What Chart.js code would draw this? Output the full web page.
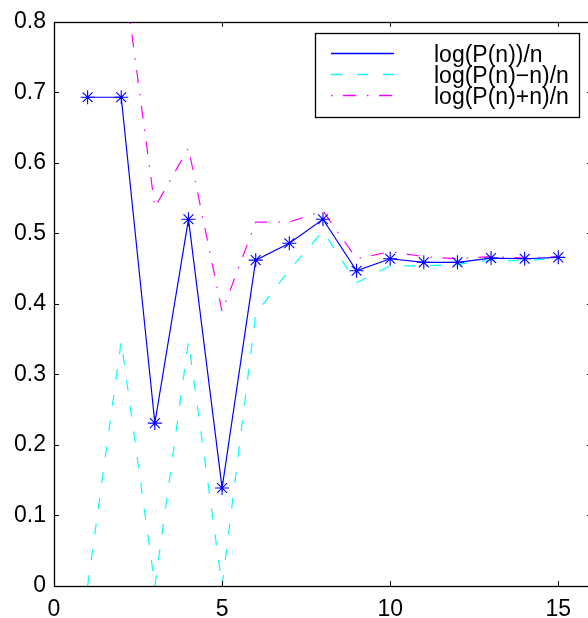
<!DOCTYPE html>
<html>
<head>
<meta charset="utf-8">
<script src="https://cdn.jsdelivr.net/npm/chart.js@4"></script>
<style>
  html, body { margin: 0; padding: 0; background: #fff; overflow: hidden; }
  #wrap { width: 588px; height: 618px; overflow: hidden; }
</style>
</head>
<body>
<div id="wrap"><canvas id="graphCanvas" width="600" height="618"></canvas></div>
<script>
// values, n = 1..15
var nValues = [1, 2, 3, 4, 5, 6, 7, 8, 9, 10, 11, 12, 13, 14, 15];
var logP = [0.693, 0.693, 0.231, 0.520, 0.139, 0.462, 0.486, 0.520, 0.447, 0.464, 0.459, 0.459, 0.465, 0.464, 0.466];
var logPminus = [0, 0.347, 0, 0.347, 0, 0.386, 0.448, 0.503, 0.430, 0.454, 0.454, 0.456, 0.462, 0.461, 0.465];
var logPplus = [1.099, 0.896, 0.537, 0.621, 0.389, 0.516, 0.516, 0.532, 0.464, 0.474, 0.467, 0.464, 0.467, 0.465, 0.467];
var seriesNames = ['log(P(n))/n', 'log(P(n)\u2212n)/n', 'log(P(n)+n)/n'];
var seriesColors = ['#0000ff', '#00ffff', '#ff00ff'];
var seriesDash = [[], [11, 15], [1.5, 10.5, 13, 11]];
var xTicks = [0, 5, 10, 15];

var fontFamily = 'Arial, "Liberation Sans", Helvetica, sans-serif';

function toPoints(ys) {
    var pts = [];
    for (var i in nValues) {
        pts.push({ x: nValues[i], y: ys[i] });
    }
    return pts;
}

// box around the plot with inward tick marks, like the original figure
var boxPlugin = {
    id: 'boxTicks',
    afterDraw: function (chart) {
        var ctx = chart.ctx;
        var a = chart.chartArea;
        var xs = chart.scales.x, ys = chart.scales.y;
        var tl = 5;
        ctx.save();
        ctx.strokeStyle = '#000';
        ctx.lineWidth = 1;
        ctx.beginPath();
        xs.ticks.forEach(function (t) {
            var px = Math.round(xs.getPixelForValue(t.value)) + 0.5;
            ctx.moveTo(px, a.bottom); ctx.lineTo(px, a.bottom - tl);
            ctx.moveTo(px, a.top); ctx.lineTo(px, a.top + tl);
        });
        ys.ticks.forEach(function (t) {
            var py = Math.round(ys.getPixelForValue(t.value)) + 0.5;
            ctx.moveTo(a.left, py); ctx.lineTo(a.left + tl, py);
            ctx.moveTo(a.right, py); ctx.lineTo(a.right - tl, py);
        });
        ctx.stroke();
        ctx.lineWidth = 1.3;
        ctx.strokeRect(Math.round(a.left) + 0.5, Math.round(a.top) + 0.5,
            Math.round(a.right - a.left), Math.round(a.bottom - a.top));
        ctx.restore();
    }
};

// legend in the upper right corner
var legendPlugin = {
    id: 'boxLegend',
    afterDraw: function (chart) {
        var ctx = chart.ctx;
        var bx = 315, by = 33, bw = 264, bh = 84;
        var rows = [53.5, 74.5, 95.5];
        ctx.save();
        ctx.fillStyle = '#fff';
        ctx.fillRect(bx, by, bw, bh);
        ctx.strokeStyle = '#000';
        ctx.lineWidth = 1.3;
        ctx.strokeRect(bx + 0.5, by + 0.5, bw, bh);
        for (var i = 0; i < seriesNames.length; i++) {
            ctx.strokeStyle = seriesColors[i];
            ctx.lineWidth = 1.3;
            ctx.setLineDash(seriesDash[i]);
            ctx.beginPath();
            ctx.moveTo(331, rows[i]);
            ctx.lineTo(394, rows[i]);
            ctx.stroke();
            ctx.setLineDash([]);
            ctx.fillStyle = '#000';
            ctx.font = '23px ' + fontFamily;
            ctx.textAlign = 'left';
            ctx.textBaseline = 'alphabetic';
            ctx.fillText(seriesNames[i], 434, rows[i] + 8);
        }
        ctx.restore();
    }
};

var chartdata = {
    datasets: [
        {
            label: seriesNames[0],
            data: toPoints(logP),
            borderColor: seriesColors[0],
            backgroundColor: seriesColors[0],
            borderWidth: 1.2,
            pointStyle: 'star',
            pointRadius: 7,
            pointBorderWidth: 1.1,
            pointBorderColor: seriesColors[0],
            tension: 0
        },
        {
            label: seriesNames[1],
            data: toPoints(logPminus),
            borderColor: seriesColors[1],
            borderWidth: 1.2,
            borderDash: seriesDash[1],
            pointRadius: 0,
            tension: 0
        },
        {
            label: seriesNames[2],
            data: toPoints(logPplus),
            borderColor: seriesColors[2],
            borderWidth: 1.2,
            borderDash: seriesDash[2],
            pointRadius: 0,
            tension: 0
        }
    ]
};

var graphTarget = document.getElementById('graphCanvas');

var lineGraph = new Chart(graphTarget, {
    type: 'line',
    data: chartdata,
    plugins: [boxPlugin, legendPlugin],
    options: {
        responsive: false,
        animation: false,
        events: [],
        layout: { padding: { top: 19, right: 7, left: 0, bottom: 0 } },
        plugins: {
            legend: { display: false },
            tooltip: { enabled: false }
        },
        scales: {
            x: {
                type: 'linear',
                min: 0,
                max: 16,
                afterFit: function (scale) { scale.height = 32; },
                afterBuildTicks: function (scale) {
                    scale.ticks = xTicks.map(function (v) { return { value: v }; });
                },
                grid: { display: false, drawTicks: false },
                border: { display: false },
                ticks: {
                    padding: 10,
                    color: '#000',
                    font: { family: fontFamily, size: 23 },
                    maxRotation: 0
                }
            },
            y: {
                min: 0,
                max: 0.8,
                afterFit: function (scale) { scale.width = 54; },
                grid: { display: false, drawTicks: false },
                border: { display: false },
                ticks: {
                    stepSize: 0.1,
                    padding: 8,
                    color: '#000',
                    font: { family: fontFamily, size: 23 },
                    callback: function (v) { return Math.round(v * 10) / 10; }
                }
            }
        }
    }
});
</script>
</body>
</html>
